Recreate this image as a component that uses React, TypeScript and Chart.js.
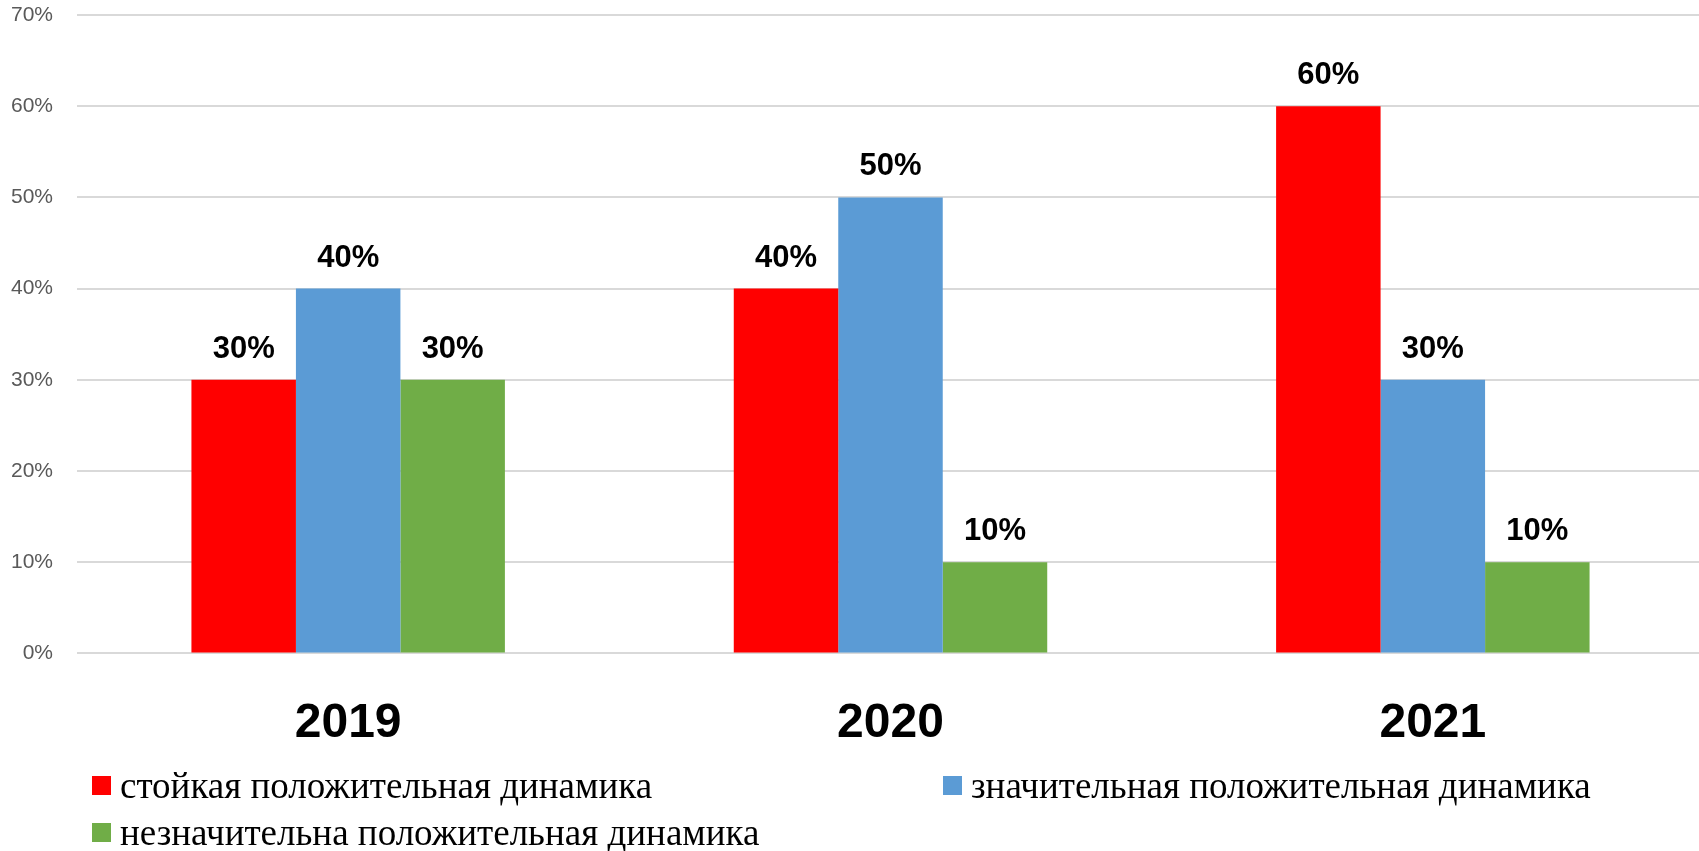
import React, { useEffect, useRef } from "react";
import { Chart, registerables } from "chart.js";

Chart.register(...registerables);

const categories = ["2019", "2020", "2021"];
const seriesNames = [
  "стойкая положительная динамика",
  "значительная положительная динамика",
  "незначительна положительная динамика",
];
const seriesColors = ["#FF0000", "#5B9BD5", "#70AD47"];
const stableValues = [30, 40, 60];
const significantValues = [40, 50, 30];
const minorValues = [30, 10, 10];
const yMax = 70;
const yStep = 10;

const SANS = "'Liberation Sans', Arial, sans-serif";
const SERIF = "'Liberation Serif', 'Times New Roman', serif";

const valueLabelPlugin = {
  id: "valueLabels",
  afterDatasetsDraw(chart: any) {
    const ctx = chart.ctx;
    ctx.save();
    ctx.font = `bold 31px ${SANS}`;
    ctx.fillStyle = "#000000";
    ctx.textAlign = "center";
    ctx.textBaseline = "alphabetic";
    chart.data.datasets.forEach((ds: any, i: number) => {
      const meta = chart.getDatasetMeta(i);
      meta.data.forEach((el: any, j: number) => {
        ctx.fillText(`${ds.data[j]}%`, el.x, el.y - 22);
      });
    });
    ctx.restore();
  },
};

// legend laid out in two columns like the original
const legendSlots = [
  { x: 92, y: 776 },
  { x: 943, y: 776 },
  { x: 92, y: 823 },
];

const legendPlugin = {
  id: "customLegend",
  afterDraw(chart: any) {
    const ctx = chart.ctx;
    ctx.save();
    ctx.font = `37px ${SERIF}`;
    ctx.textAlign = "left";
    ctx.textBaseline = "alphabetic";
    chart.data.datasets.forEach((ds: any, i: number) => {
      const slot = legendSlots[i];
      ctx.fillStyle = ds.backgroundColor;
      ctx.fillRect(slot.x, slot.y, 19, 19);
      ctx.fillStyle = "#000000";
      ctx.fillText(ds.label, slot.x + 28, slot.y + 22);
    });
    ctx.restore();
  },
};

export default function App() {
  const canvasRef = useRef<HTMLCanvasElement | null>(null);

  useEffect(() => {
    const canvas = canvasRef.current;
    if (!canvas) return;
    const valueSets = [stableValues, significantValues, minorValues];
    const chart = new Chart(canvas, {
      type: "bar",
      data: {
        labels: categories,
        datasets: valueSets.map((vals, i) => ({
          label: seriesNames[i],
          data: vals,
          backgroundColor: seriesColors[i],
          borderWidth: 0,
          barPercentage: 1,
          categoryPercentage: 0.578,
        })),
      },
      options: {
        responsive: false,
        animation: false,
        layout: { padding: { top: 15, right: 1, bottom: 56, left: 0 } },
        plugins: {
          legend: { display: false },
          tooltip: { enabled: false },
          title: { display: false },
        },
        scales: {
          x: {
            grid: { display: false, drawTicks: false },
            border: { display: false },
            ticks: {
              padding: 42,
              color: "#000000",
              font: { family: SANS, size: 48, weight: "bold" },
            },
          },
          y: {
            min: 0,
            max: yMax,
            grid: { color: "#D9D9D9", lineWidth: 2, drawTicks: false },
            border: { display: false },
            ticks: {
              stepSize: yStep,
              padding: 24,
              color: "#595959",
              font: { family: SANS, size: 21 },
              callback: (v: any) => `${v}%`,
            },
            afterFit: (scale: any) => {
              scale.width = 77;
              scale.paddingTop = 0;
              scale.paddingBottom = 0;
            },
          },
        },
      },
      plugins: [valueLabelPlugin, legendPlugin],
    });
    return () => chart.destroy();
  }, []);

  return (
    <div
      style={{
        position: "absolute",
        left: 0,
        top: 0,
        width: 1699,
        height: 851,
        overflow: "hidden",
        background: "#ffffff",
      }}
    >
      <canvas ref={canvasRef} width={1705} height={851} style={{ display: "block" }} />
    </div>
  );
}
